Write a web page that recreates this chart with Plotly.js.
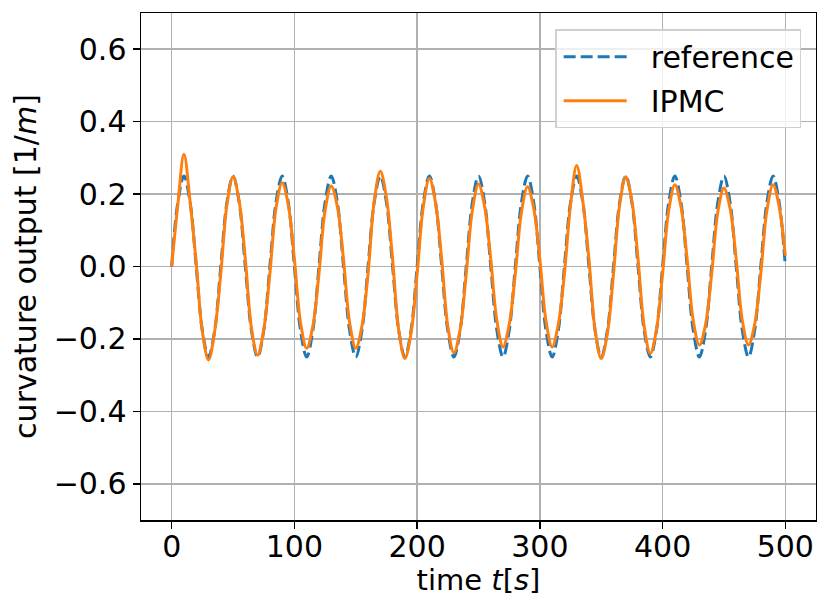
<!DOCTYPE html>
<html>
<head>
<meta charset="utf-8">
<script src="https://cdn.plot.ly/plotly-3.0.1.min.js"></script>
<style>html,body{margin:0;padding:0;background:#fff;}#chart{width:817px;height:597px;}</style>
</head>
<body>
<div id="chart"></div>
<script>
// time samples [s]
const timeS = [
  0,5,10,15,20,25,30,35,
  40,45,50,55,60,65,70,75,
  80,85,90,95,100,105,110,115,
  120,125,130,135,140,145,150,155,
  160,165,170,175,180,185,190,195,
  200,205,210,215,220,225,230,235,
  240,245,250,255,260,265,270,275,
  280,285,290,295,300,305,310,315,
  320,325,330,335,340,345,350,355,
  360,365,370,375,380,385,390,395,
  400,405,410,415,420,425,430,435,
  440,445,450,455,460,465,470,475,
  480,485,490,495,500
];
// reference curvature [1/m]
const referenceCurv = [
  0,0.177,0.25,0.177,0,-0.177,-0.25,-0.177,
  0,0.177,0.25,0.177,0,-0.177,-0.25,-0.177,
  0,0.177,0.25,0.177,0,-0.177,-0.25,-0.177,
  0,0.177,0.25,0.177,0,-0.177,-0.25,-0.177,
  0,0.177,0.25,0.177,0,-0.177,-0.25,-0.177,
  0,0.177,0.25,0.177,0,-0.177,-0.25,-0.177,
  0,0.177,0.25,0.177,0,-0.177,-0.25,-0.177,
  0,0.177,0.25,0.177,0,-0.177,-0.25,-0.177,
  0,0.177,0.25,0.177,0,-0.177,-0.25,-0.177,
  0,0.177,0.25,0.177,0,-0.177,-0.25,-0.177,
  0,0.177,0.25,0.177,0,-0.177,-0.25,-0.177,
  0,0.177,0.25,0.177,0,-0.177,-0.25,-0.177,
  0,0.177,0.25,0.177,0
];
// IPMC measured curvature [1/m]
const ipmcCurv = [
  0,0.17,0.31,0.18,0.01,-0.18,-0.258,-0.18,
  -0.02,0.17,0.248,0.18,0.02,-0.17,-0.245,-0.175,
  -0.02,0.16,0.231,0.17,0.02,-0.155,-0.226,-0.165,
  -0.02,0.155,0.222,0.165,0.02,-0.155,-0.226,-0.165,
  -0.02,0.18,0.263,0.19,0.02,-0.175,-0.254,-0.185,
  -0.02,0.165,0.243,0.175,0.02,-0.165,-0.238,-0.175,
  -0.02,0.155,0.228,0.165,0.02,-0.15,-0.222,-0.16,
  -0.02,0.15,0.22,0.16,0.02,-0.15,-0.222,-0.16,
  -0.02,0.17,0.279,0.18,0.02,-0.175,-0.254,-0.185,
  -0.02,0.17,0.248,0.18,0.02,-0.165,-0.24,-0.175,
  -0.02,0.155,0.226,0.165,0.02,-0.15,-0.217,-0.16,
  -0.02,0.15,0.217,0.16,0.02,-0.15,-0.217,-0.16,
  -0.02,0.155,0.226,0.165,0.03
];
const seriesNames = ['\u00a0\u00a0reference', '\u00a0\u00a0IPMC'];
const xTickVals = [0,100,200,300,400,500];
const yTickVals = [-0.6,-0.4,-0.2,0.0,0.2,0.4,0.6];

const FONT = 'DejaVu Sans, sans-serif';
const FS = 30;
const traces = [
  {x: timeS, y: referenceCurv, name: seriesNames[0], type: 'scatter', mode: 'lines', legendgroup: 'a',
   line: {color: '#1f77b4', width: 3, dash: '12px,5px', shape: 'spline', smoothing: 1}},
  {x: timeS, y: ipmcCurv, name: seriesNames[1], type: 'scatter', mode: 'lines', legendgroup: 'b',
   line: {color: '#ff7f0e', width: 3, shape: 'spline', smoothing: 1}}
];
const axisCommon = {
  showgrid: true, gridcolor: '#b0b0b0', gridwidth: 1.5,
  zeroline: false, showline: true, mirror: true, linecolor: '#000', linewidth: 1.5,
  ticks: 'outside', ticklen: 7, tickwidth: 1.5, tickcolor: '#000',
  tickfont: {family: FONT, size: FS, color: '#000'}
};
const layout = {
  width: 817, height: 597,
  margin: {l: 141, r: 1, t: 13, b: 77},
  paper_bgcolor: '#fff', plot_bgcolor: '#fff',
  font: {family: FONT, size: FS, color: '#000'},
  showlegend: true,
  legend: {x: 0.978, y: 0.968, xanchor: 'right', yanchor: 'top',
    traceorder: 'grouped', tracegroupgap: 2, indentation: 2,
    bgcolor: 'rgba(255,255,255,0.8)', bordercolor: '#d0d0d0', borderwidth: 1.5,
    itemwidth: 63, font: {family: FONT, size: FS, color: '#000'}},
  xaxis: Object.assign({}, axisCommon, {
    range: [-25, 525], tickmode: 'array', tickvals: xTickVals, ticklabelstandoff: -8,
    title: {text: 'time <i>t</i>[<i>s</i>]', font: {family: FONT, size: 29, color: '#000'}, standoff: 3}
  }),
  yaxis: Object.assign({}, axisCommon, {
    range: [-0.7, 0.7], tickmode: 'array', tickvals: yTickVals, tickformat: '.1f',
    title: {text: 'curvature output [1/<i>m</i>]', font: {family: FONT, size: FS, color: '#000'}, standoff: 8}
  })
};
Plotly.newPlot('chart', traces, layout, {staticPlot: true, displayModeBar: false});
</script>
</body>
</html>
